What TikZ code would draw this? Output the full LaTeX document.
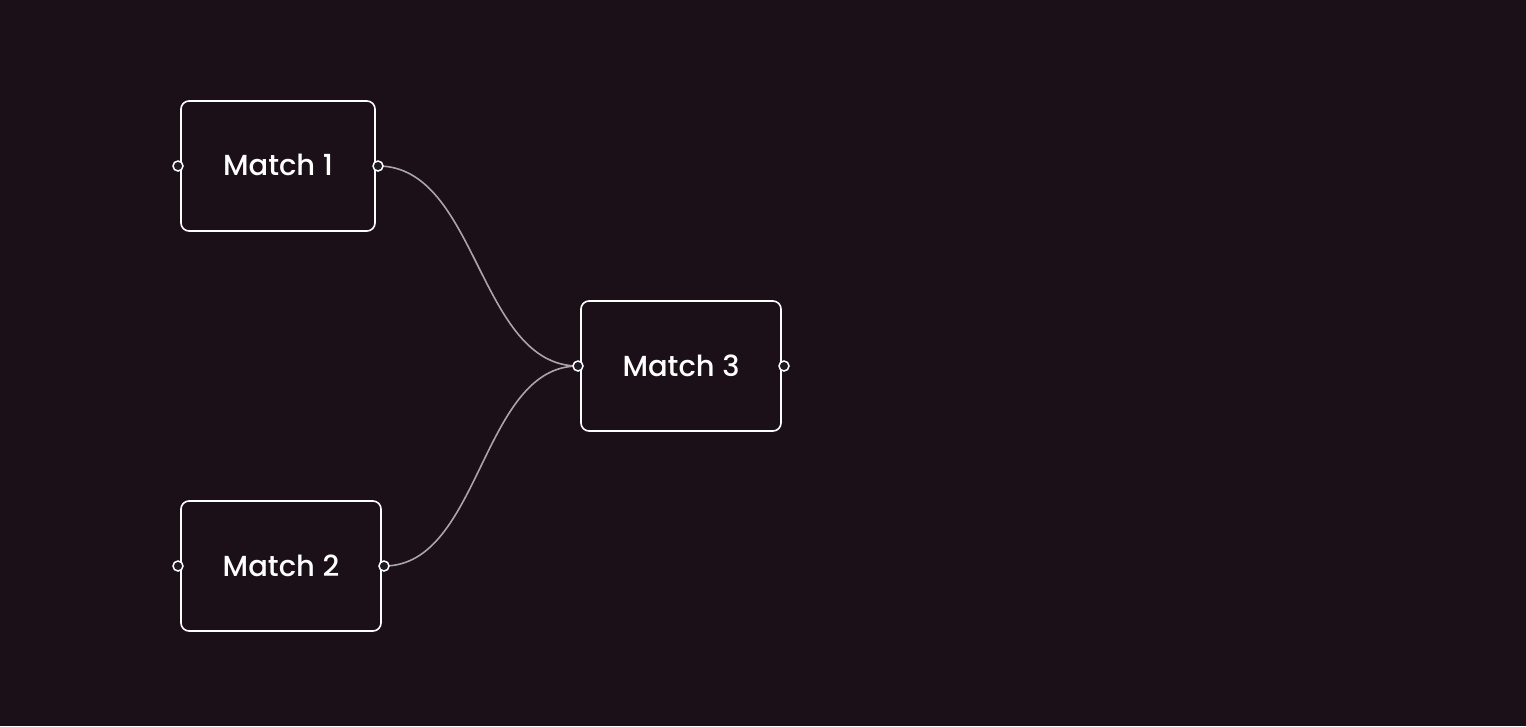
\documentclass[tikz,border=0pt]{standalone}
\usepackage{fontspec}
\setmainfont{Poppins}[UprightFont=* Medium]
\definecolor{bg}{HTML}{1B1018}
\definecolor{portfill}{HTML}{1E1A26}
\definecolor{wire}{HTML}{A8A4A8}
\begin{document}
\begin{tikzpicture}[x=1pt,y=-1pt,
  matchbox/.style={draw=white, line width=1.6pt, rounded corners=8pt, fill=bg,
    text=white, font=\fontsize{29}{34}\selectfont, inner sep=0pt},
  port/.style={circle, draw=white, line width=1.5pt, fill=portfill, minimum size=10pt, inner sep=0pt},
  wirestyle/.style={draw=wire, line width=1.6pt}]
\fill[bg] (0,0) rectangle (1526,726);
\useasboundingbox (0,0) rectangle (1526,726);
\node[matchbox, minimum width=194pt, minimum height=130pt] (m1) at (278,166) {\raisebox{1.5pt}{Match 1}};
\node[matchbox, minimum width=200pt, minimum height=130pt] (m2) at (281,566) {\raisebox{1.5pt}{Match 2}};
\node[matchbox, minimum width=200pt, minimum height=130pt] (m3) at (681,366) {\raisebox{1.5pt}{Match 3}};
\coordinate (m1in) at (178,166);
\coordinate (m1out) at (378,166);
\coordinate (m2in) at (178,566);
\coordinate (m2out) at (384,566);
\coordinate (m3in) at (578,366);
\coordinate (m3out) at (784,366);
\draw[wirestyle] (m1out) .. controls (478,166) and (478,366) .. (m3in);
\draw[wirestyle] (m2out) .. controls (481,566) and (481,366) .. (m3in);
\node[port] (p1) at (m1in) {};
\node[port] (p2) at (m1out) {};
\node[port] (p3) at (m2in) {};
\node[port] (p4) at (m2out) {};
\node[port] (p5) at (m3in) {};
\node[port] (p6) at (m3out) {};
\end{tikzpicture}
\end{document}
